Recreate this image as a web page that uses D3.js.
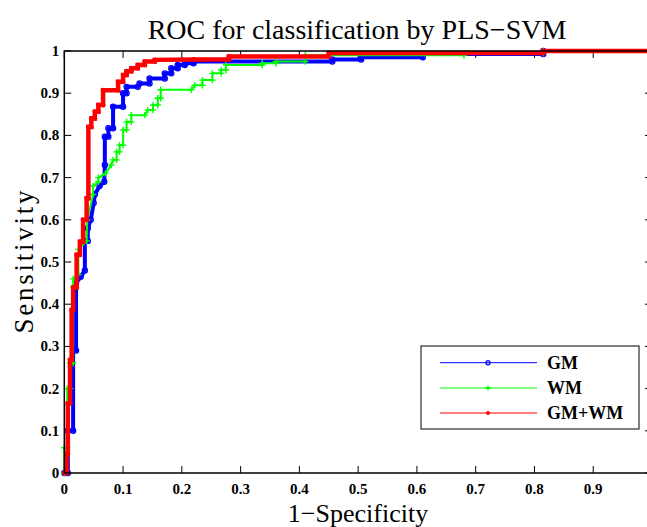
<!DOCTYPE html>
<html>
<head>
<meta charset="utf-8">
<script src="https://cdn.jsdelivr.net/npm/d3@7"></script>
<style>
  body { margin: 0; background: #fff; }
  svg { display: block; font-family: "Liberation Serif", "DejaVu Serif", serif; }
  .tick-text { font-size: 15px; font-weight: bold; }
  .legend-text { font-size: 18px; font-weight: bold; }
</style>
</head>
<body>
<div id="chart"></div>
<script>
// ROC curve vertices [1-specificity, sensitivity]
const gmPoints = [
  [0, 0], [0.006, 0], [0.006, 0.10], [0.015, 0.10], [0.015, 0.29], [0.02, 0.29],
  [0.02, 0.45], [0.028, 0.465], [0.035, 0.48], [0.035, 0.55], [0.04, 0.55],
  [0.04, 0.58], [0.045, 0.60], [0.05, 0.64], [0.052, 0.66], [0.06, 0.68],
  [0.068, 0.69], [0.069, 0.73], [0.069, 0.797], [0.075, 0.797], [0.075, 0.817],
  [0.083, 0.817], [0.083, 0.868], [0.1, 0.868], [0.1, 0.90], [0.106, 0.90],
  [0.106, 0.915], [0.125, 0.915], [0.128, 0.923], [0.145, 0.923], [0.145, 0.935],
  [0.171, 0.935], [0.171, 0.947], [0.182, 0.947], [0.182, 0.959], [0.193, 0.959],
  [0.193, 0.967], [0.205, 0.967], [0.205, 0.971], [0.22, 0.971], [0.22, 0.975],
  [0.456, 0.975], [0.456, 0.98], [0.505, 0.98], [0.505, 0.985], [0.61, 0.985],
  [0.61, 0.993], [0.815, 0.993], [0.815, 1], [1, 1]
];
const wmPoints = [
  [0, 0], [0, 0.06], [0.005, 0.06], [0.005, 0.20], [0.01, 0.20], [0.01, 0.26],
  [0.015, 0.26], [0.015, 0.46], [0.024, 0.47], [0.024, 0.53], [0.038, 0.55],
  [0.039, 0.60], [0.049, 0.66], [0.049, 0.68], [0.058, 0.69], [0.058, 0.70],
  [0.07, 0.71], [0.08, 0.73], [0.083, 0.742], [0.089, 0.742], [0.089, 0.761],
  [0.094, 0.761], [0.094, 0.777], [0.1, 0.777], [0.1, 0.813], [0.106, 0.813],
  [0.106, 0.832], [0.114, 0.832], [0.114, 0.848], [0.137, 0.848], [0.142, 0.86],
  [0.151, 0.86], [0.151, 0.872], [0.159, 0.872], [0.159, 0.888], [0.164, 0.888],
  [0.164, 0.908], [0.216, 0.908], [0.222, 0.919], [0.235, 0.919], [0.235, 0.931],
  [0.252, 0.931], [0.252, 0.947], [0.267, 0.947], [0.267, 0.955], [0.275, 0.955],
  [0.275, 0.967], [0.337, 0.967], [0.337, 0.971], [0.36, 0.971], [0.36, 0.975],
  [0.41, 0.975], [0.41, 0.99], [0.68, 0.99], [0.68, 0.995], [0.815, 0.995],
  [0.815, 1], [1, 1]
];
const gmwmPoints = [
  [0, 0], [0.004, 0], [0.004, 0.047], [0.006, 0.047], [0.006, 0.165],
  [0.0097, 0.165], [0.0097, 0.268], [0.0125, 0.268], [0.0125, 0.386],
  [0.015, 0.386], [0.015, 0.44], [0.021, 0.44], [0.021, 0.517], [0.0266, 0.517],
  [0.0266, 0.548], [0.032, 0.548], [0.032, 0.60], [0.038, 0.60], [0.038, 0.651],
  [0.041, 0.651], [0.041, 0.82], [0.046, 0.82], [0.046, 0.84], [0.052, 0.84],
  [0.052, 0.856], [0.058, 0.856], [0.058, 0.872], [0.066, 0.872], [0.066, 0.907],
  [0.0915, 0.907], [0.0915, 0.927], [0.1, 0.927], [0.1, 0.943], [0.106, 0.943],
  [0.106, 0.952], [0.114, 0.952], [0.114, 0.959], [0.125, 0.959], [0.125, 0.967],
  [0.137, 0.967], [0.137, 0.975], [0.154, 0.975], [0.154, 0.979], [0.22, 0.98],
  [0.28, 0.98], [0.28, 0.987], [0.45, 0.987], [0.45, 0.995], [0.815, 0.995],
  [0.815, 1], [1, 1]
];

const seriesNames = ["GM", "WM", "GM+WM"];
const seriesColors = ["#0000ff", "#00ff00", "#ff0000"];
const seriesMarkers = ["circle", "plus", "dot"];

const xTicks = [0, 0.1, 0.2, 0.3, 0.4, 0.5, 0.6, 0.7, 0.8, 0.9, 1];
// the label for 1 falls outside the visible frame, so only these are drawn
const xTickLabels = ["0", "0.1", "0.2", "0.3", "0.4", "0.5", "0.6", "0.7", "0.8", "0.9"];
const yTicks = [0, 0.1, 0.2, 0.3, 0.4, 0.5, 0.6, 0.7, 0.8, 0.9, 1];
const yTickLabels = ["0", "0.1", "0.2", "0.3", "0.4", "0.5", "0.6", "0.7", "0.8", "0.9", "1"];

const width = 647;
const height = 527;
const marginLeft = 64.3;
const marginTop = 51;
const plotRight = 652;
const plotBottom = 473;
const tickSize = 7;

const x = d3.scaleLinear().domain([0, 1]).range([marginLeft, plotRight]);
const y = d3.scaleLinear().domain([0, 1]).range([plotBottom, marginTop]);

const svg = d3.select("#chart")
  .append("svg")
  .attr("width", width)
  .attr("height", height)
  .attr("viewBox", [0, 0, width, height]);

svg.append("rect").attr("width", width).attr("height", height).attr("fill", "#fff");

// frame ticks (inward, all four sides)
const tickG = svg.append("g").attr("stroke", "#000").attr("stroke-width", 1);
tickG.selectAll(".xt-b").data(xTicks).join("line")
  .attr("x1", x).attr("x2", x)
  .attr("y1", plotBottom).attr("y2", plotBottom - tickSize);
tickG.selectAll(".xt-t").data(xTicks).join("line")
  .attr("x1", x).attr("x2", x)
  .attr("y1", marginTop).attr("y2", marginTop + tickSize);
tickG.selectAll(".yt-l").data(yTicks).join("line")
  .attr("x1", marginLeft).attr("x2", marginLeft + tickSize)
  .attr("y1", y).attr("y2", y);
tickG.selectAll(".yt-r").data(yTicks).join("line")
  .attr("x1", plotRight).attr("x2", plotRight - tickSize)
  .attr("y1", y).attr("y2", y);

// curves
const line = d3.line().x((d) => x(d[0])).y((d) => y(d[1]));
const curves = [gmPoints, wmPoints, gmwmPoints];
const lineWidths = [4, 2, 4.5];

function drawMarker(g, type, color, cx, cy, scale) {
  if (type === "circle") {
    g.append("circle").attr("cx", cx).attr("cy", cy).attr("r", 2.6 * scale)
      .attr("fill", "none").attr("stroke", color).attr("stroke-width", 1.2);
  } else if (type === "plus") {
    const s = 3.2 * scale;
    g.append("path")
      .attr("d", `M${cx - s},${cy}H${cx + s}M${cx},${cy - s}V${cy + s}`)
      .attr("stroke", color).attr("stroke-width", 1.4);
  } else {
    g.append("circle").attr("cx", cx).attr("cy", cy).attr("r", 2.4 * scale)
      .attr("fill", color);
  }
}

const plotG = svg.append("g");
curves.forEach((pts, i) => {
  const g = plotG.append("g");
  g.append("path")
    .attr("d", line(pts))
    .attr("fill", "none")
    .attr("stroke", seriesColors[i])
    .attr("stroke-width", lineWidths[i])
    .attr("stroke-linejoin", "miter");
  pts.forEach((p) => drawMarker(g, seriesMarkers[i], seriesColors[i], x(p[0]), y(p[1]), 1));
});

// frame
svg.append("rect")
  .attr("x", marginLeft).attr("y", marginTop)
  .attr("width", plotRight - marginLeft).attr("height", plotBottom - marginTop)
  .attr("fill", "none").attr("stroke", "#000").attr("stroke-width", 1.5);

// tick labels
svg.append("g").selectAll("text").data(xTickLabels).join("text")
  .attr("class", "tick-text")
  .attr("x", (d, i) => x(xTicks[i]))
  .attr("y", 494)
  .attr("text-anchor", "middle")
  .text((d) => d);

svg.append("g").selectAll("text").data(yTicks).join("text")
  .attr("class", "tick-text")
  .attr("x", marginLeft - 5)
  .attr("y", (d) => y(d) + 5)
  .attr("text-anchor", "end")
  .text((d, i) => yTickLabels[i]);

// titles
svg.append("text")
  .attr("x", 357).attr("y", 39)
  .attr("text-anchor", "middle")
  .attr("font-size", 28)
  .text("ROC for classification by PLS\u2212SVM");

svg.append("text")
  .attr("x", 358).attr("y", 522)
  .attr("text-anchor", "middle")
  .attr("font-size", 26)
  .text("1\u2212Specificity");

svg.append("text")
  .attr("transform", "translate(33,262) rotate(-90)")
  .attr("text-anchor", "middle")
  .attr("font-size", 27)
  .attr("textLength", 143)
  .text("Sensitivity");

// legend
const legend = svg.append("g");
legend.append("rect")
  .attr("x", 421).attr("y", 346).attr("width", 218).attr("height", 83)
  .attr("fill", "#fff").attr("stroke", "#000").attr("stroke-width", 1);
const legendRowY = [362.7, 388, 413];
seriesNames.forEach((name, i) => {
  const row = legend.append("g");
  row.append("line")
    .attr("x1", 440).attr("x2", 537)
    .attr("y1", legendRowY[i]).attr("y2", legendRowY[i])
    .attr("stroke", seriesColors[i]).attr("stroke-width", 1);
  drawMarker(row, seriesMarkers[i], seriesColors[i], 488, legendRowY[i], 0.8);
  row.append("text")
    .attr("class", "legend-text")
    .attr("x", 547).attr("y", legendRowY[i] + 6)
    .text(name);
});
</script>
</body>
</html>
